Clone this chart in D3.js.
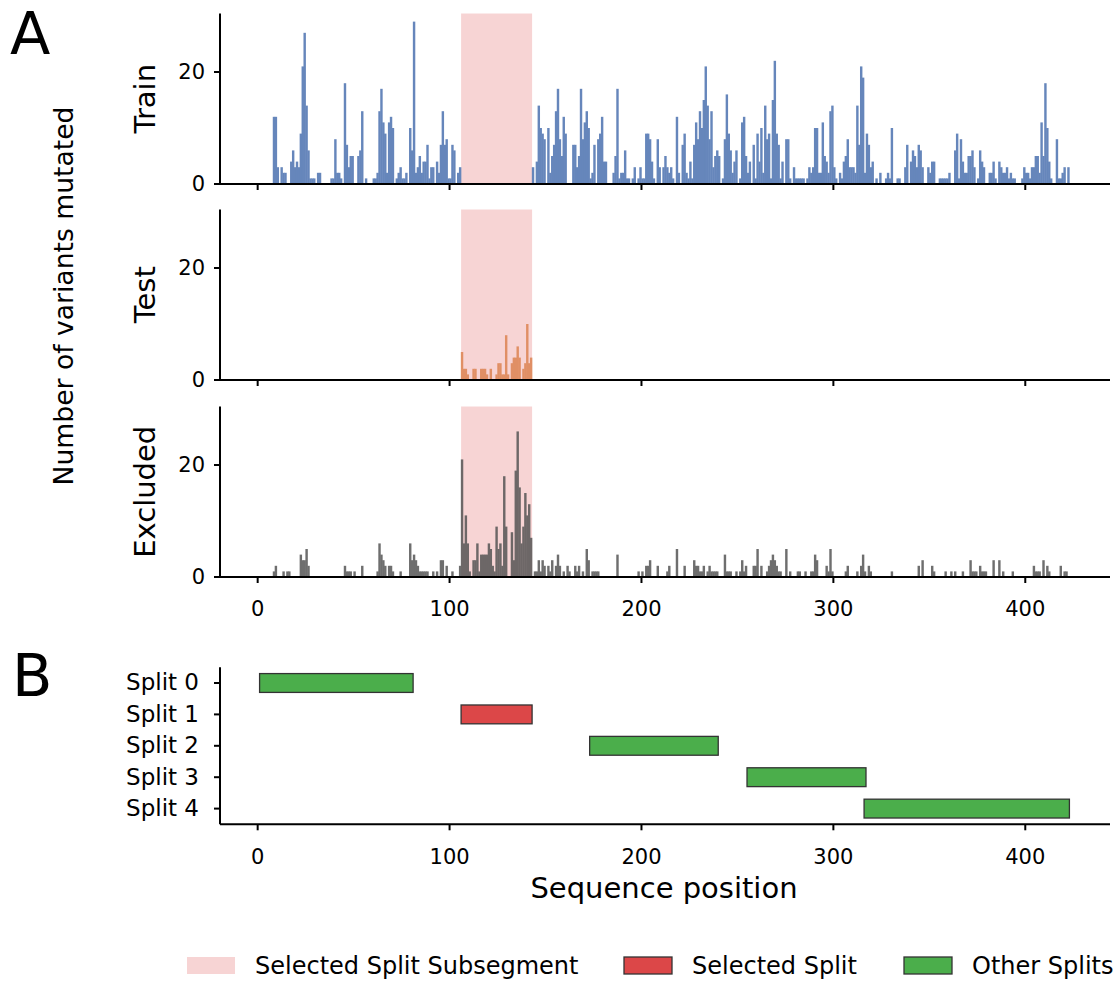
<!DOCTYPE html>
<html>
<head>
<meta charset="utf-8">
<script src="https://cdn.jsdelivr.net/npm/d3@7"></script>
<style>
  body { margin: 0; background: #fff; }
  text { font-family: "DejaVu Sans", sans-serif; fill: #000; }
</style>
</head>
<body>
<svg id="chart" width="1117" height="981"></svg>
<script>
// Per-position mutation counts: [sequence position, number of variants]
const trainCounts = [
  [8,12],[9,12],[10,3],[12,3],[13,2],[14,2],[17,4],[18,6],[19,3],[20,4],[21,3],[22,9],[23,21],[24,27],[25,14],[26,6],
  [27,1],[28,1],[29,1],[31,2],[32,2],[38,1],[39,1],[40,8],[41,2],[42,2],[43,1],[45,18],[46,7],[47,3],[48,5],[49,5],
  [52,5],[53,6],[54,13],[56,1],[60,1],[61,1],[62,2],[63,13],[64,17],[65,11],[66,9],[67,2],[68,11],[69,12],[70,10],
  [72,1],[73,2],[74,3],[75,1],[76,1],[77,2],[79,10],[80,6],[81,29],[82,2],[83,3],[84,5],[85,2],[86,4],[87,4],[88,7],
  [89,1],[90,3],[91,3],[93,4],[94,2],[95,7],[96,13],[97,7],[98,8],[99,1],[100,1],[101,7],[102,6],[104,2],[105,3],
  [143,3],[145,4],[146,14],[147,10],[148,9],[149,8],[151,10],[152,2],[153,5],[154,7],[155,13],[156,17],[157,8],[158,5],
  [159,12],[160,9],[164,7],[165,7],[166,3],[167,5],[168,17],[169,8],[170,11],[171,13],[172,10],[173,1],[174,2],[175,7],
  [177,8],[178,9],[179,12],[180,4],[181,4],[185,2],[186,5],[187,17],[188,1],[189,2],[190,2],[191,6],[192,1],[193,1],
  [195,1],[196,3],[198,1],[199,3],[200,1],[201,1],[202,9],[203,9],[204,8],[205,4],[206,1],[208,8],[209,3],[211,3],
  [212,5],[213,3],[214,2],[215,3],[216,1],[218,12],[219,2],[221,7],[222,9],[223,2],[224,1],[225,4],[226,1],[227,7],
  [228,11],[229,8],[230,13],[231,10],[232,15],[233,21],[234,14],[235,8],[236,13],[237,3],[238,5],[239,6],[240,5],
  [242,1],[243,8],[244,16],[245,9],[246,6],[247,2],[248,4],[249,6],[251,1],[252,11],[253,12],[254,5],[255,2],[256,4],
  [258,7],[259,1],[260,9],[261,4],[262,10],[263,2],[264,14],[265,8],[266,9],[267,1],[268,15],[269,22],[270,9],[271,7],
  [272,1],[273,4],[275,8],[276,8],[277,1],[279,3],[280,1],[281,1],[282,1],[283,1],[284,1],[286,1],[287,3],[288,2],
  [289,3],[290,10],[291,10],[292,2],[293,2],[294,11],[295,5],[296,4],[297,2],[298,13],[299,14],[300,3],[301,1],[303,2],
  [304,1],[305,4],[306,5],[307,8],[308,3],[309,3],[310,3],[311,2],[312,14],[313,7],[314,21],[315,19],[316,2],[317,9],
  [318,7],[319,3],[320,4],[322,1],[324,2],[327,1],[328,2],[329,1],[330,10],[333,1],[334,1],[337,3],[338,7],[340,4],
  [341,6],[342,5],[343,3],[344,7],[345,6],[346,3],[349,3],[350,2],[351,4],[352,4],[355,1],[356,1],[357,1],[358,1],
  [359,1],[360,2],[363,6],[364,9],[365,1],[366,8],[367,4],[368,2],[369,2],[370,5],[371,5],[372,6],[373,3],[375,1],
  [376,6],[377,4],[378,3],[381,2],[382,2],[383,4],[384,1],[386,4],[387,3],[388,2],[389,2],[390,3],[391,1],[392,2],
  [393,1],[394,1],[398,1],[399,3],[400,2],[401,2],[402,1],[403,3],[404,3],[405,5],[406,5],[407,2],[408,11],[409,5],
  [410,18],[411,10],[412,4],[413,1],[416,8],[417,1],[418,1],[419,2],[420,3],[422,3]
];
const testCounts = [
  [106,5],[107,2],[108,2],[109,1],[112,2],[113,2],[116,2],[117,2],[118,2],[119,1],[121,2],[124,1],[125,3],[126,3],
  [127,1],[128,1],[129,8],[130,1],[132,3],[133,4],[134,4],[135,6],[136,4],[138,2],[139,3],[140,10],[141,3],[142,4]
];
const excludedCounts = [
  [8,1],[9,2],[13,1],[15,1],[16,1],[22,4],[23,3],[24,3],[25,5],[26,2],[45,2],[46,1],[47,1],[48,1],[50,1],[54,2],
  [62,1],[63,6],[64,4],[65,3],[66,2],[68,2],[69,2],[70,1],[74,1],[79,6],[80,3],[81,4],[82,3],[83,2],[84,1],[85,1],
  [86,1],[87,1],[88,1],[91,1],[93,1],[95,3],[96,3],[98,2],[101,1],[105,2],[106,21],[107,6],[108,11],[109,6],[110,1],
  [112,3],[113,3],[114,6],[115,1],[116,4],[117,4],[118,4],[119,4],[120,6],[121,5],[122,2],[123,1],[124,9],[125,5],
  [126,6],[127,2],[128,18],[129,9],[132,8],[133,3],[134,19],[135,26],[136,16],[137,6],[138,9],[139,15],[140,11],
  [141,13],[142,7],[144,1],[145,1],[146,3],[147,1],[148,3],[149,2],[151,2],[152,1],[153,3],[155,2],[156,4],[157,2],
  [159,1],[161,2],[162,1],[165,2],[166,1],[167,2],[169,1],[171,5],[172,3],[174,1],[175,1],[176,1],[177,1],[187,4],
  [198,1],[200,1],[202,2],[203,2],[204,3],[208,2],[213,1],[214,2],[218,5],[222,2],[227,3],[228,2],[229,2],[230,1],
  [231,1],[232,2],[234,1],[235,2],[236,1],[237,1],[238,1],[239,1],[243,4],[244,1],[245,1],[246,1],[249,1],[251,1],
  [252,3],[253,1],[254,2],[258,2],[259,2],[260,5],[262,2],[265,1],[266,2],[267,3],[268,4],[269,3],[270,2],[271,1],
  [272,1],[275,5],[277,1],[281,1],[282,1],[285,1],[288,1],[289,1],[290,4],[291,3],[296,2],[297,1],[298,5],[299,1],
  [306,1],[307,2],[312,1],[314,2],[315,4],[316,1],[318,2],[319,1],[330,1],[344,2],[346,3],[351,2],[352,1],[358,1],
  [361,1],[363,1],[367,1],[371,3],[372,1],[373,1],[374,1],[376,2],[377,1],[378,1],[379,1],[383,3],[386,3],[388,1],
  [393,1],[404,2],[405,1],[406,1],[407,1],[409,3],[411,2],[412,1],[418,2],[420,1],[421,1]
];

// Selected split subsegment (start, end) in sequence positions
const subsegment = [106, 143];

// Split ranges
const splitNames = ["Split 0", "Split 1", "Split 2", "Split 3", "Split 4"];
const splitStart = [1, 106, 173, 255, 316];
const splitEnd = [81, 143, 240, 317, 423];
const selectedSplit = 1;

const xTicks = [0, 100, 200, 300, 400];
const yTicks = [0, 20];
const panelNames = ["Train", "Test", "Excluded"];
const legendLabels = ["Selected Split Subsegment", "Selected Split", "Other Splits"];

// ---- layout & styling ----
const svg = d3.select("#chart");
const x = d3.scaleLinear().domain([-19.63, 444.15]).range([220, 1110]);
const yMax = 30.45;
const panelBottoms = [184, 380, 577];
const panelHeight = 170.5;
const seriesColors = ["#4c72b0", "#dd8452", "#555555"];
const panelData = [trainCounts, testCounts, excludedCounts];
const tickFont = 21;
const labelFont = 29;

function styleAxis(g) {
  g.select(".domain").attr("stroke", "#000").attr("stroke-width", 2);
  g.selectAll(".tick line").attr("stroke", "#000").attr("stroke-width", 2);
  g.selectAll(".tick text").style("font-size", tickFont + "px");
}

panelData.forEach((data, i) => {
  const bottom = panelBottoms[i];
  const y = d3.scaleLinear().domain([0, yMax]).range([bottom, bottom - panelHeight]);
  const g = svg.append("g");

  // subsegment highlight
  g.append("rect")
    .attr("x", x(subsegment[0]))
    .attr("y", y(yMax))
    .attr("width", x(subsegment[1]) - x(subsegment[0]))
    .attr("height", y(0) - y(yMax))
    .attr("fill", "#d62728")
    .attr("fill-opacity", 0.2);

  // bars (group opacity so neighbouring bars merge without seams)
  g.append("g").attr("opacity", 0.85)
    .selectAll("rect").data(data).join("rect")
    .attr("x", d => x(d[0]) - 0.25)
    .attr("width", d => x(d[0] + 1) - x(d[0]) + 0.5)
    .attr("y", d => y(d[1]))
    .attr("height", d => y(0) - y(d[1]))
    .attr("fill", seriesColors[i]);

  // axes
  const xAxis = d3.axisBottom(x).tickValues(xTicks).tickSize(6).tickSizeOuter(0).offset(0);
  if (i < 2) xAxis.tickFormat("");
  const gx = g.append("g").attr("transform", `translate(0,${bottom})`).call(xAxis);
  styleAxis(gx);
  gx.selectAll(".tick text").attr("y", 24.5);

  const yAxis = d3.axisLeft(y).tickValues(yTicks).tickSize(6).tickSizeOuter(0).tickPadding(9).offset(0);
  const gy = g.append("g").attr("transform", `translate(220,0)`).call(yAxis);
  styleAxis(gy);

  // panel label
  g.append("text")
    .attr("transform", `translate(145,${bottom - panelHeight / 2}) rotate(-90)`)
    .attr("text-anchor", "middle")
    .attr("dy", "0.36em")
    .style("font-size", labelFont + "px")
    .text(panelNames[i]);
});

// shared y label
svg.append("text")
  .attr("transform", "translate(63,296) rotate(-90)")
  .attr("text-anchor", "middle")
  .attr("dy", "0.36em")
  .style("font-size", "26.6px")
  .text("Number of variants mutated");

// panel letters
svg.append("text").attr("x", 10).attr("y", 54).style("font-size", "59px").text("A");
svg.append("text").attr("x", 12).attr("y", 696).style("font-size", "59px").text("B");

// ---- panel B: split ranges ----
const ys = d3.scaleLinear().domain([-0.5, 4.5]).range([667.3, 824.3]);
const gB = svg.append("g");
const barH = ys(0.3) - ys(-0.3);
gB.selectAll("rect.split").data(splitNames).join("rect")
  .attr("class", "split")
  .attr("x", (d, i) => x(splitStart[i]))
  .attr("width", (d, i) => x(splitEnd[i]) - x(splitStart[i]))
  .attr("y", (d, i) => ys(i) - barH / 2)
  .attr("height", barH)
  .attr("fill", (d, i) => i === selectedSplit ? "#dc4748" : "#4bae4b")
  .attr("stroke", "#333")
  .attr("stroke-width", 1.3);

const gBx = gB.append("g").attr("transform", "translate(0,824.3)")
  .call(d3.axisBottom(x).tickValues(xTicks).tickSize(6).tickSizeOuter(0).offset(0));
styleAxis(gBx);
gBx.selectAll(".tick text").attr("y", 24.5);

const gBy = gB.append("g").attr("transform", "translate(220,0)")
  .call(d3.axisLeft(ys).tickValues(d3.range(splitNames.length)).tickFormat(i => splitNames[i])
    .tickSize(6).tickSizeOuter(0).tickPadding(15).offset(0));
styleAxis(gBy);
gBy.selectAll(".tick text").style("font-size", "23px");

svg.append("text")
  .attr("x", 664).attr("y", 888).attr("dy", "0.36em")
  .attr("text-anchor", "middle")
  .style("font-size", labelFont + "px")
  .text("Sequence position");

// ---- legend ----
const legendX = [187, 624, 904];
const legendFill = ["#f7d4d4", "#dc4748", "#4bae4b"];
const legendStroke = ["none", "#333", "#333"];
const gL = svg.append("g");
legendLabels.forEach((lab, i) => {
  gL.append("rect")
    .attr("x", legendX[i]).attr("y", 957)
    .attr("width", 48).attr("height", 17)
    .attr("fill", legendFill[i])
    .attr("stroke", legendStroke[i])
    .attr("stroke-width", 1.3);
  gL.append("text")
    .attr("x", legendX[i] + 68).attr("y", 965.5).attr("dy", "0.36em")
    .style("font-size", "24px")
    .text(lab);
});
</script>
</body>
</html>
